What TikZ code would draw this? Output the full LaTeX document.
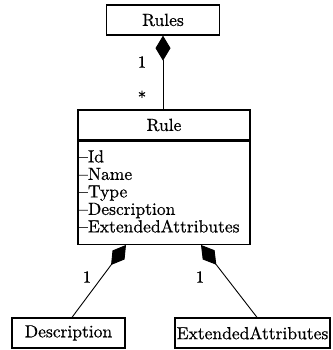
\documentclass[tikz,border=0pt]{standalone}
\usepackage{fontspec}
\setmainfont{lmroman10-regular.otf}[FakeBold=0.6]
\usetikzlibrary{arrows.meta}
\begin{document}
\begin{tikzpicture}[x=1pt,y=-1pt,
  every node/.style={font=\fontsize{17.5}{17.5}\selectfont, inner sep=0pt},
  umlbox/.style={draw, line width=1.3pt, fill=white, minimum height=30pt},
  link/.style={line width=0.9pt},
  comp/.style={link, -{Diamond[length=25pt,width=15pt]}},
  mult/.style={font=\fontsize{17}{17}\selectfont}]
\useasboundingbox (0,0) rectangle (332,350);
% classes
\node[umlbox, minimum width=113pt] (rules) at (163,20) {Rules};
\node[umlbox, minimum width=172pt] (rule) at (164,125) {Rule};
\node[umlbox, minimum width=172pt, minimum height=103pt, anchor=north] (attrs) at (rule.south) {};
\node[anchor=north west, align=left] (attrlist) at (79,150)
  {--Id\\--Name\\--Type\\--Description\\--ExtendedAttributes};
\node[umlbox, minimum width=113pt] (desc) at (68.5,333) {Description};
\node[umlbox, minimum width=155pt] (ext) at (252.5,333) {ExtendedAttributes};
% compositions
\draw[comp] (rules.south |- rule.north) -- (rules.south);
\draw[comp] ([xshift=3.5pt]desc.north) -- ([xshift=-38pt]attrs.south);
\draw[comp] ([xshift=4.5pt]ext.north) -- ([xshift=37pt]attrs.south);
% multiplicities
\node[mult] (m1) at (142,62) {1};
\node[mult] (m2) at (142,97) {*};
\node[mult] (m3) at (87,277) {1};
\node[mult] (m4) at (200,277) {1};
\end{tikzpicture}
\end{document}
